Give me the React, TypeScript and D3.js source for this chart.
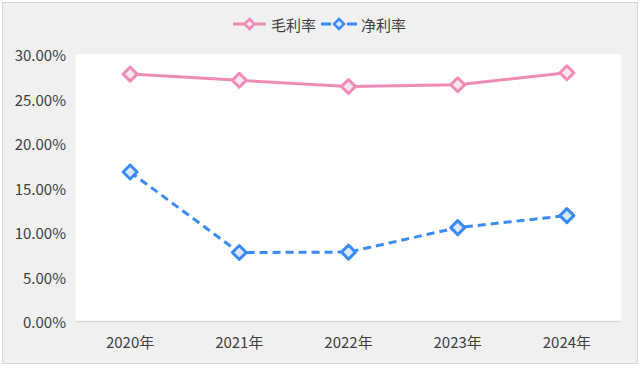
import React from "react";
import * as d3 from "d3";

const categories = ["2020年", "2021年", "2022年", "2023年", "2024年"];
const grossMargin = [27.8, 27.1, 26.4, 26.6, 27.95];
const netMargin = [16.8, 7.75, 7.8, 10.55, 11.9];
const yTicks = [0, 5, 10, 15, 20, 25, 30];
const seriesNames = ["毛利率", "净利率"];

const W = 640;
const H = 375;
const plot = { left: 75.5, right: 621.5, top: 54.5, bottom: 321.5 };
const PINK = "#f08cb4";
const PINK_FILL = "#fde6ef";
const BLUE = "#3b8bf6";
const BLUE_FILL = "#d9e8fd";
const FONT = "'Noto Sans CJK SC', 'Noto Sans', sans-serif";

function diamond(cx: number, cy: number, r: number) {
  return `M${cx},${cy - r}L${cx + r},${cy}L${cx},${cy + r}L${cx - r},${cy}Z`;
}

export default function App() {
  const x = d3.scaleBand<string>().domain(categories).range([plot.left, plot.right]);
  const y = d3.scaleLinear().domain([0, 30]).range([plot.bottom, plot.top]);
  const cx = (c: string) => (x(c) as number) + x.bandwidth() / 2;
  const line = d3
    .line<number>()
    .x((_, i) => cx(categories[i]))
    .y((d) => y(d));

  const series = [
    { name: seriesNames[0], data: grossMargin, color: PINK, fill: PINK_FILL, dash: undefined as string | undefined },
    { name: seriesNames[1], data: netMargin, color: BLUE, fill: BLUE_FILL, dash: "8,5" },
  ];

  const legendItems = [
    { x0: 233, x1: 266, tx: 271 },
    { x0: 321, x1: 357, tx: 361 },
  ];

  return (
    <svg width={W} height={H} style={{ position: "absolute", left: 0, top: 0 }}>
      <rect x={0} y={0} width={W} height={H} fill="#ffffff" />
      <rect x={2.5} y={2.5} width={635} height={361} fill="#f0f0f0" stroke="#d4d4d4" strokeWidth={1} />
      <rect x={plot.left} y={plot.top} width={plot.right - plot.left} height={plot.bottom - plot.top} fill="#ffffff" />
      <line x1={plot.left} x2={plot.right} y1={plot.bottom} y2={plot.bottom} stroke="#d9d9d9" strokeWidth={1.5} />
      {yTicks.map((t) => (
        <text
          key={t}
          x={66}
          y={y(t)}
          textAnchor="end"
          dominantBaseline="central"
          fontFamily={FONT}
          fontSize={15}
          fill="#404040"
        >
          {d3.format(".2f")(t) + "%"}
        </text>
      ))}
      {categories.map((c) => (
        <text
          key={c}
          x={cx(c)}
          y={341}
          textAnchor="middle"
          dominantBaseline="central"
          fontFamily={FONT}
          fontSize={15}
          fill="#404040"
        >
          {c}
        </text>
      ))}
      {series.map((s) => (
        <g key={s.name}>
          <path d={line(s.data) || ""} fill="none" stroke={s.color} strokeWidth={3} strokeDasharray={s.dash} />
          {s.data.map((v, i) => (
            <path
              key={i}
              d={diamond(cx(categories[i]), y(v), 7)}
              fill={s.fill}
              stroke={s.color}
              strokeWidth={3}
              strokeLinejoin="round"
            />
          ))}
        </g>
      ))}
      {series.map((s, i) => {
        const L = legendItems[i];
        const mid = (L.x0 + L.x1) / 2;
        return (
          <g key={"lg" + s.name}>
            {s.dash ? (
              <>
                <line x1={L.x0} x2={L.x0 + 10} y1={24} y2={24} stroke={s.color} strokeWidth={3} />
                <line x1={L.x1 - 10} x2={L.x1} y1={24} y2={24} stroke={s.color} strokeWidth={3} />
              </>
            ) : (
              <line x1={L.x0} x2={L.x1} y1={24} y2={24} stroke={s.color} strokeWidth={3} />
            )}
            <path d={diamond(mid, 24, 5)} fill={s.fill} stroke={s.color} strokeWidth={2.5} />
            <text x={L.tx} y={24} dominantBaseline="central" fontFamily={FONT} fontSize={15} fill="#404040">
              {s.name}
            </text>
          </g>
        );
      })}
    </svg>
  );
}
